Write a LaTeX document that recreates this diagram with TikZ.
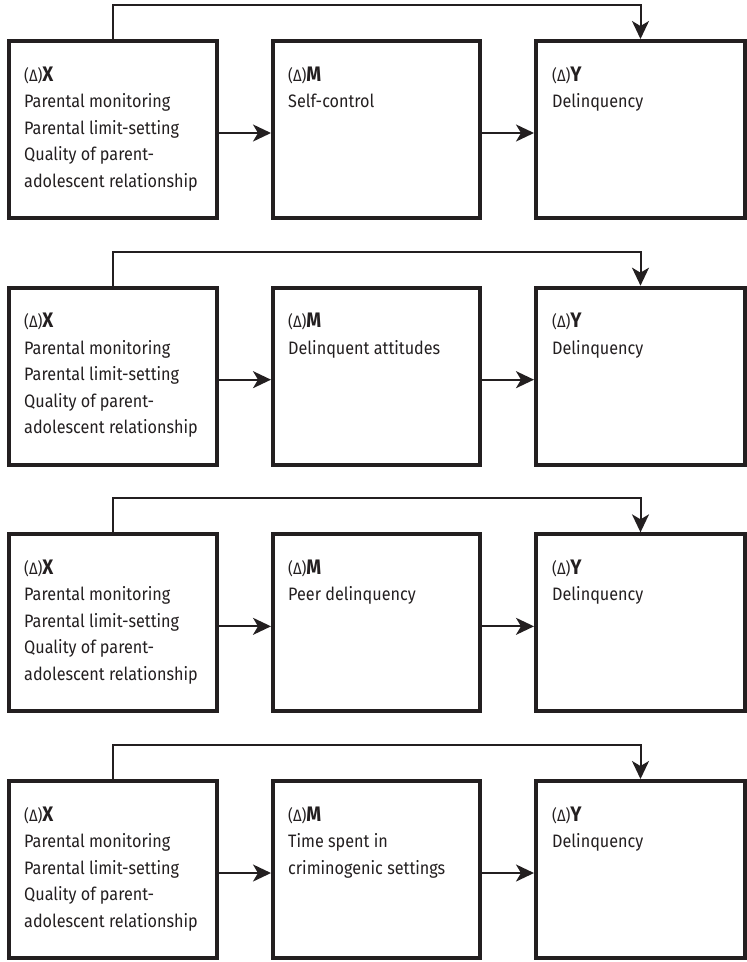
\documentclass[tikz,border=0pt]{standalone}
\usepackage{fontspec}
\setmainfont{Fira Sans}[FakeStretch=0.9]
\usetikzlibrary{arrows.meta}
\definecolor{ink}{HTML}{231F20}
\newcommand\hd[1]{{\fontsize{16.5}{16.5}\selectfont(Δ)}{\fontsize{21}{21}\selectfont\bfseries #1}}
\newcommand\stk[1]{\vtop{\baselineskip=26.5pt\lineskiplimit=-50pt\lineskip=0pt #1}}
\begin{document}
\begin{tikzpicture}[x=1pt,y=-1pt,
  varbox/.style={draw=ink, line width=4pt, minimum height=177pt, inner sep=0pt},
  conn/.style={draw=ink, line width=2pt, -{Stealth[length=18pt,width=17pt,inset=5pt]}},
  lbl/.style={anchor=base west, inner sep=0pt, text=ink, font=\fontsize{18}{26.5}\selectfont}]
\useasboundingbox[fill=white] (0,0) rectangle (747,962);
\foreach \r/\mt in {0/{\hbox{Self-control}},1/{\hbox{Delinquent attitudes}},2/{\hbox{Peer delinquency}},3/{\hbox{Time spent in}\hbox{criminogenic settings}}}{
  \pgfmathsetmacro\dy{246.67*\r}
  \node[varbox, minimum width=208pt] (x\r) at (113,129.5+\dy) {};
  \node[varbox, minimum width=207pt] (m\r) at (376.5,129.5+\dy) {};
  \node[varbox, minimum width=209pt] (y\r) at (640.5,129.5+\dy) {};
  \node[lbl] (xt\r) at (24,81+\dy) {\stk{\hbox{\hd{X}}\hbox{Parental monitoring}\hbox{Parental limit-setting}\hbox{Quality of parent-}\hbox{adolescent relationship}}};
  \node[lbl] (mt\r) at (288,81+\dy) {\stk{\hbox{\hd{M}}\mt}};
  \node[lbl] (yt\r) at (552,81+\dy) {\stk{\hbox{\hd{Y}}\hbox{Delinquency}}};
  \draw[conn] ([yshift=-3.5pt]x\r.east) -- ([yshift=-3.5pt]m\r.west);
  \draw[conn] ([yshift=-3.5pt]m\r.east) -- ([yshift=-3.5pt]y\r.west);
  \draw[conn] (x\r.north) -- ++(0,-34) -| (y\r.north);
}
\end{tikzpicture}
\end{document}
